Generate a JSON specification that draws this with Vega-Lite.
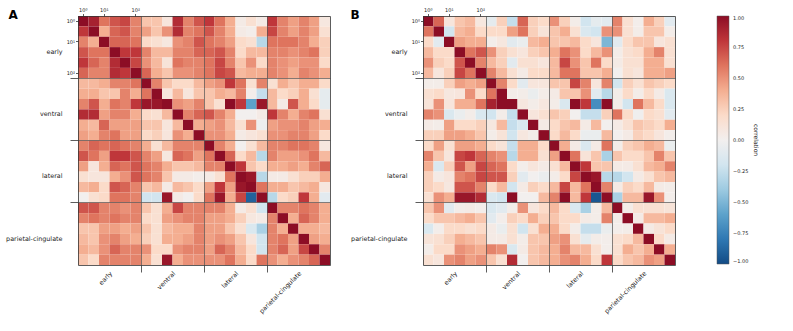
{
"$schema":"https://vega.github.io/schema/vega-lite/v6.json",
"padding":{"left":5,"top":7,"right":5,"bottom":5},
"config":{"font":"DejaVu Sans","view":{"stroke":null},"axis":{"labelFont":"DejaVu Sans","labelColor":"#222","tickColor":"#333","domainColor":"#333","domainWidth":0.8,"tickWidth":0.8,"grid":false},"title":{"font":"DejaVu Sans"}},
"datasets":{
"A":[
{"i":0,"j":0,"v":1},{"i":0,"j":1,"v":0.9},{"i":0,"j":2,"v":0.6},{"i":0,"j":3,"v":0.7},{"i":0,"j":4,"v":0.75},{"i":0,"j":5,"v":0.55},{"i":0,"j":6,"v":0.3},{"i":0,"j":7,"v":0.3},{"i":0,"j":8,"v":0.1},{"i":0,"j":9,"v":0.85},{"i":0,"j":10,"v":0.55},{"i":0,"j":11,"v":0.7},{"i":0,"j":12,"v":0.8},{"i":0,"j":13,"v":0.6},{"i":0,"j":14,"v":0.4},{"i":0,"j":15,"v":0.05},{"i":0,"j":16,"v":0.15},{"i":0,"j":17,"v":0.05},{"i":0,"j":18,"v":0.8},{"i":0,"j":19,"v":0.55},{"i":0,"j":20,"v":0.45},{"i":0,"j":21,"v":0.55},{"i":0,"j":22,"v":0.45},{"i":0,"j":23,"v":0.08},
{"i":1,"j":0,"v":0.8},{"i":1,"j":1,"v":1},{"i":1,"j":2,"v":0.4},{"i":1,"j":3,"v":0.65},{"i":1,"j":4,"v":0.7},{"i":1,"j":5,"v":0.55},{"i":1,"j":6,"v":0.45},{"i":1,"j":7,"v":0.3},{"i":1,"j":8,"v":0.5},{"i":1,"j":9,"v":0.85},{"i":1,"j":10,"v":0.55},{"i":1,"j":11,"v":0.6},{"i":1,"j":12,"v":0.7},{"i":1,"j":13,"v":0.55},{"i":1,"j":14,"v":0.4},{"i":1,"j":15,"v":0.05},{"i":1,"j":16,"v":0.02},{"i":1,"j":17,"v":0.4},{"i":1,"j":18,"v":0.75},{"i":1,"j":19,"v":0.55},{"i":1,"j":20,"v":0.45},{"i":1,"j":21,"v":0.55},{"i":1,"j":22,"v":0.45},{"i":1,"j":23,"v":0.15},
{"i":2,"j":0,"v":0.55},{"i":2,"j":1,"v":0.4},{"i":2,"j":2,"v":1},{"i":2,"j":3,"v":0.65},{"i":2,"j":4,"v":0.65},{"i":2,"j":5,"v":0.6},{"i":2,"j":6,"v":0.2},{"i":2,"j":7,"v":0.15},{"i":2,"j":8,"v":0.08},{"i":2,"j":9,"v":0.5},{"i":2,"j":10,"v":0.55},{"i":2,"j":11,"v":0.7},{"i":2,"j":12,"v":0.6},{"i":2,"j":13,"v":0.55},{"i":2,"j":14,"v":0.45},{"i":2,"j":15,"v":0.2},{"i":2,"j":16,"v":0.15},{"i":2,"j":17,"v":-0.3},{"i":2,"j":18,"v":0.6},{"i":2,"j":19,"v":0.6},{"i":2,"j":20,"v":0.6},{"i":2,"j":21,"v":0.55},{"i":2,"j":22,"v":0.4},{"i":2,"j":23,"v":0.25},
{"i":3,"j":0,"v":0.7},{"i":3,"j":1,"v":0.6},{"i":3,"j":2,"v":0.6},{"i":3,"j":3,"v":1},{"i":3,"j":4,"v":0.8},{"i":3,"j":5,"v":0.8},{"i":3,"j":6,"v":0.55},{"i":3,"j":7,"v":0.35},{"i":3,"j":8,"v":0.35},{"i":3,"j":9,"v":0.55},{"i":3,"j":10,"v":0.55},{"i":3,"j":11,"v":0.65},{"i":3,"j":12,"v":0.65},{"i":3,"j":13,"v":0.7},{"i":3,"j":14,"v":0.55},{"i":3,"j":15,"v":0.2},{"i":3,"j":16,"v":0.35},{"i":3,"j":17,"v":0.35},{"i":3,"j":18,"v":0.55},{"i":3,"j":19,"v":0.55},{"i":3,"j":20,"v":0.5},{"i":3,"j":21,"v":0.55},{"i":3,"j":22,"v":0.6},{"i":3,"j":23,"v":0.25},
{"i":4,"j":0,"v":0.8},{"i":4,"j":1,"v":0.65},{"i":4,"j":2,"v":0.55},{"i":4,"j":3,"v":0.85},{"i":4,"j":4,"v":1},{"i":4,"j":5,"v":0.75},{"i":4,"j":6,"v":0.5},{"i":4,"j":7,"v":0.35},{"i":4,"j":8,"v":0.12},{"i":4,"j":9,"v":0.6},{"i":4,"j":10,"v":0.55},{"i":4,"j":11,"v":0.55},{"i":4,"j":12,"v":0.6},{"i":4,"j":13,"v":0.75},{"i":4,"j":14,"v":0.55},{"i":4,"j":15,"v":0.3},{"i":4,"j":16,"v":0.5},{"i":4,"j":17,"v":0.2},{"i":4,"j":18,"v":0.55},{"i":4,"j":19,"v":0.5},{"i":4,"j":20,"v":0.45},{"i":4,"j":21,"v":0.5},{"i":4,"j":22,"v":0.5},{"i":4,"j":23,"v":0.2},
{"i":5,"j":0,"v":0.65},{"i":5,"j":1,"v":0.55},{"i":5,"j":2,"v":0.55},{"i":5,"j":3,"v":0.85},{"i":5,"j":4,"v":0.8},{"i":5,"j":5,"v":1},{"i":5,"j":6,"v":0.65},{"i":5,"j":7,"v":0.4},{"i":5,"j":8,"v":0.3},{"i":5,"j":9,"v":0.5},{"i":5,"j":10,"v":0.5},{"i":5,"j":11,"v":0.55},{"i":5,"j":12,"v":0.6},{"i":5,"j":13,"v":0.75},{"i":5,"j":14,"v":0.7},{"i":5,"j":15,"v":0.35},{"i":5,"j":16,"v":0.4},{"i":5,"j":17,"v":0.4},{"i":5,"j":18,"v":0.55},{"i":5,"j":19,"v":0.5},{"i":5,"j":20,"v":0.4},{"i":5,"j":21,"v":0.55},{"i":5,"j":22,"v":0.5},{"i":5,"j":23,"v":0.4},
{"i":6,"j":0,"v":0.35},{"i":6,"j":1,"v":0.35},{"i":6,"j":2,"v":0.4},{"i":6,"j":3,"v":0.55},{"i":6,"j":4,"v":0.55},{"i":6,"j":5,"v":0.6},{"i":6,"j":6,"v":1},{"i":6,"j":7,"v":0.55},{"i":6,"j":8,"v":0.3},{"i":6,"j":9,"v":0.2},{"i":6,"j":10,"v":0.2},{"i":6,"j":11,"v":0.35},{"i":6,"j":12,"v":0.45},{"i":6,"j":13,"v":0.5},{"i":6,"j":14,"v":0.8},{"i":6,"j":15,"v":0.6},{"i":6,"j":16,"v":0.15},{"i":6,"j":17,"v":0.55},{"i":6,"j":18,"v":0.15},{"i":6,"j":19,"v":0.4},{"i":6,"j":20,"v":0.3},{"i":6,"j":21,"v":0.4},{"i":6,"j":22,"v":0.4},{"i":6,"j":23,"v":0.2},
{"i":7,"j":0,"v":0.4},{"i":7,"j":1,"v":0.4},{"i":7,"j":2,"v":0.3},{"i":7,"j":3,"v":0.3},{"i":7,"j":4,"v":0.55},{"i":7,"j":5,"v":0.4},{"i":7,"j":6,"v":0.6},{"i":7,"j":7,"v":1},{"i":7,"j":8,"v":0.1},{"i":7,"j":9,"v":0.35},{"i":7,"j":10,"v":0.1},{"i":7,"j":11,"v":0.3},{"i":7,"j":12,"v":0.3},{"i":7,"j":13,"v":0.4},{"i":7,"j":14,"v":0.35},{"i":7,"j":15,"v":0.55},{"i":7,"j":16,"v":0.02},{"i":7,"j":17,"v":-0.25},{"i":7,"j":18,"v":0.35},{"i":7,"j":19,"v":0.2},{"i":7,"j":20,"v":0.25},{"i":7,"j":21,"v":0.4},{"i":7,"j":22,"v":0.15},{"i":7,"j":23,"v":-0.08},
{"i":8,"j":0,"v":0.55},{"i":8,"j":1,"v":0.7},{"i":8,"j":2,"v":0.4},{"i":8,"j":3,"v":0.6},{"i":8,"j":4,"v":0.55},{"i":8,"j":5,"v":0.8},{"i":8,"j":6,"v":0.95},{"i":8,"j":7,"v":0.95},{"i":8,"j":8,"v":1},{"i":8,"j":9,"v":0.5},{"i":8,"j":10,"v":0.45},{"i":8,"j":11,"v":0.55},{"i":8,"j":12,"v":0.3},{"i":8,"j":13,"v":0.15},{"i":8,"j":14,"v":1},{"i":8,"j":15,"v":0.8},{"i":8,"j":16,"v":-0.6},{"i":8,"j":17,"v":0.95},{"i":8,"j":18,"v":0.35},{"i":8,"j":19,"v":0.05},{"i":8,"j":20,"v":0.7},{"i":8,"j":21,"v":0.4},{"i":8,"j":22,"v":0.2},{"i":8,"j":23,"v":-0.08},
{"i":9,"j":0,"v":0.85},{"i":9,"j":1,"v":0.85},{"i":9,"j":2,"v":0.45},{"i":9,"j":3,"v":0.55},{"i":9,"j":4,"v":0.55},{"i":9,"j":5,"v":0.4},{"i":9,"j":6,"v":0.2},{"i":9,"j":7,"v":0.15},{"i":9,"j":8,"v":0.35},{"i":9,"j":9,"v":1},{"i":9,"j":10,"v":0.55},{"i":9,"j":11,"v":0.65},{"i":9,"j":12,"v":0.7},{"i":9,"j":13,"v":0.55},{"i":9,"j":14,"v":0.4},{"i":9,"j":15,"v":0},{"i":9,"j":16,"v":0},{"i":9,"j":17,"v":0.05},{"i":9,"j":18,"v":0.8},{"i":9,"j":19,"v":0.55},{"i":9,"j":20,"v":0.4},{"i":9,"j":21,"v":0.55},{"i":9,"j":22,"v":0.6},{"i":9,"j":23,"v":0.15},
{"i":10,"j":0,"v":0.4},{"i":10,"j":1,"v":0.35},{"i":10,"j":2,"v":0.65},{"i":10,"j":3,"v":0.45},{"i":10,"j":4,"v":0.45},{"i":10,"j":5,"v":0.45},{"i":10,"j":6,"v":0.3},{"i":10,"j":7,"v":0.3},{"i":10,"j":8,"v":0.1},{"i":10,"j":9,"v":0.35},{"i":10,"j":10,"v":1},{"i":10,"j":11,"v":0.4},{"i":10,"j":12,"v":0.45},{"i":10,"j":13,"v":0.5},{"i":10,"j":14,"v":0.35},{"i":10,"j":15,"v":0.15},{"i":10,"j":16,"v":0.5},{"i":10,"j":17,"v":-0.03},{"i":10,"j":18,"v":0.45},{"i":10,"j":19,"v":0.5},{"i":10,"j":20,"v":0.5},{"i":10,"j":21,"v":0.55},{"i":10,"j":22,"v":0.45},{"i":10,"j":23,"v":0.4},
{"i":11,"j":0,"v":0.45},{"i":11,"j":1,"v":0.4},{"i":11,"j":2,"v":0.55},{"i":11,"j":3,"v":0.6},{"i":11,"j":4,"v":0.45},{"i":11,"j":5,"v":0.45},{"i":11,"j":6,"v":0.2},{"i":11,"j":7,"v":0.25},{"i":11,"j":8,"v":0.1},{"i":11,"j":9,"v":0.5},{"i":11,"j":10,"v":0.4},{"i":11,"j":11,"v":1},{"i":11,"j":12,"v":0.5},{"i":11,"j":13,"v":0.5},{"i":11,"j":14,"v":0.4},{"i":11,"j":15,"v":0.05},{"i":11,"j":16,"v":0.1},{"i":11,"j":17,"v":0.15},{"i":11,"j":18,"v":0.5},{"i":11,"j":19,"v":0.5},{"i":11,"j":20,"v":0.55},{"i":11,"j":21,"v":0.55},{"i":11,"j":22,"v":0.45},{"i":11,"j":23,"v":0.2},
{"i":12,"j":0,"v":0.55},{"i":12,"j":1,"v":0.65},{"i":12,"j":2,"v":0.6},{"i":12,"j":3,"v":0.65},{"i":12,"j":4,"v":0.6},{"i":12,"j":5,"v":0.55},{"i":12,"j":6,"v":0.4},{"i":12,"j":7,"v":0.15},{"i":12,"j":8,"v":0.35},{"i":12,"j":9,"v":0.55},{"i":12,"j":10,"v":0.55},{"i":12,"j":11,"v":0.55},{"i":12,"j":12,"v":1},{"i":12,"j":13,"v":0.55},{"i":12,"j":14,"v":0.4},{"i":12,"j":15,"v":0},{"i":12,"j":16,"v":0.15},{"i":12,"j":17,"v":0.35},{"i":12,"j":18,"v":0.55},{"i":12,"j":19,"v":0.55},{"i":12,"j":20,"v":0.6},{"i":12,"j":21,"v":0.6},{"i":12,"j":22,"v":0.55},{"i":12,"j":23,"v":0.08},
{"i":13,"j":0,"v":0.7},{"i":13,"j":1,"v":0.6},{"i":13,"j":2,"v":0.45},{"i":13,"j":3,"v":0.8},{"i":13,"j":4,"v":0.8},{"i":13,"j":5,"v":0.7},{"i":13,"j":6,"v":0.55},{"i":13,"j":7,"v":0.45},{"i":13,"j":8,"v":0.08},{"i":13,"j":9,"v":0.65},{"i":13,"j":10,"v":0.6},{"i":13,"j":11,"v":0.45},{"i":13,"j":12,"v":0.6},{"i":13,"j":13,"v":1},{"i":13,"j":14,"v":0.65},{"i":13,"j":15,"v":0.2},{"i":13,"j":16,"v":0.35},{"i":13,"j":17,"v":-0.3},{"i":13,"j":18,"v":0.55},{"i":13,"j":19,"v":0.45},{"i":13,"j":20,"v":0.45},{"i":13,"j":21,"v":0.5},{"i":13,"j":22,"v":0.6},{"i":13,"j":23,"v":0.35},
{"i":14,"j":0,"v":0.45},{"i":14,"j":1,"v":0.1},{"i":14,"j":2,"v":0.4},{"i":14,"j":3,"v":0.65},{"i":14,"j":4,"v":0.6},{"i":14,"j":5,"v":0.7},{"i":14,"j":6,"v":0.6},{"i":14,"j":7,"v":0.55},{"i":14,"j":8,"v":0.4},{"i":14,"j":9,"v":0.3},{"i":14,"j":10,"v":0.3},{"i":14,"j":11,"v":0.35},{"i":14,"j":12,"v":0.55},{"i":14,"j":13,"v":0.55},{"i":14,"j":14,"v":1},{"i":14,"j":15,"v":0.8},{"i":14,"j":16,"v":0.3},{"i":14,"j":17,"v":0.2},{"i":14,"j":18,"v":0.4},{"i":14,"j":19,"v":0.4},{"i":14,"j":20,"v":0.45},{"i":14,"j":21,"v":0.4},{"i":14,"j":22,"v":0.55},{"i":14,"j":23,"v":0.65},
{"i":15,"j":0,"v":0.15},{"i":15,"j":1,"v":0.1},{"i":15,"j":2,"v":0.1},{"i":15,"j":3,"v":0.4},{"i":15,"j":4,"v":0.5},{"i":15,"j":5,"v":0.7},{"i":15,"j":6,"v":0.6},{"i":15,"j":7,"v":0.55},{"i":15,"j":8,"v":0.3},{"i":15,"j":9,"v":0.05},{"i":15,"j":10,"v":0.05},{"i":15,"j":11,"v":0.02},{"i":15,"j":12,"v":0.05},{"i":15,"j":13,"v":0.15},{"i":15,"j":14,"v":0.6},{"i":15,"j":15,"v":1},{"i":15,"j":16,"v":0.95},{"i":15,"j":17,"v":-0.3},{"i":15,"j":18,"v":0.05},{"i":15,"j":19,"v":0.05},{"i":15,"j":20,"v":0.15},{"i":15,"j":21,"v":0.25},{"i":15,"j":22,"v":0.25},{"i":15,"j":23,"v":0.4},
{"i":16,"j":0,"v":0.35},{"i":16,"j":1,"v":0.4},{"i":16,"j":2,"v":0.2},{"i":16,"j":3,"v":0.7},{"i":16,"j":4,"v":0.65},{"i":16,"j":5,"v":0.55},{"i":16,"j":6,"v":0.3},{"i":16,"j":7,"v":0.35},{"i":16,"j":8,"v":0.05},{"i":16,"j":9,"v":0.35},{"i":16,"j":10,"v":0.3},{"i":16,"j":11,"v":0.2},{"i":16,"j":12,"v":0.45},{"i":16,"j":13,"v":0.8},{"i":16,"j":14,"v":0.45},{"i":16,"j":15,"v":0.95},{"i":16,"j":16,"v":1},{"i":16,"j":17,"v":0.6},{"i":16,"j":18,"v":0.4},{"i":16,"j":19,"v":0.4},{"i":16,"j":20,"v":0.3},{"i":16,"j":21,"v":0.35},{"i":16,"j":22,"v":0.4},{"i":16,"j":23,"v":0.08},
{"i":17,"j":0,"v":0},{"i":17,"j":1,"v":0.15},{"i":17,"j":2,"v":0.2},{"i":17,"j":3,"v":0.6},{"i":17,"j":4,"v":0.6},{"i":17,"j":5,"v":0.55},{"i":17,"j":6,"v":-0.2},{"i":17,"j":7,"v":-0.2},{"i":17,"j":8,"v":0.95},{"i":17,"j":9,"v":0.05},{"i":17,"j":10,"v":0},{"i":17,"j":11,"v":0.2},{"i":17,"j":12,"v":0.6},{"i":17,"j":13,"v":0.95},{"i":17,"j":14,"v":0.4},{"i":17,"j":15,"v":0.75},{"i":17,"j":16,"v":-0.9},{"i":17,"j":17,"v":1},{"i":17,"j":18,"v":-0.3},{"i":17,"j":19,"v":0.2},{"i":17,"j":20,"v":0.25},{"i":17,"j":21,"v":0.8},{"i":17,"j":22,"v":0.4},{"i":17,"j":23,"v":-0.1},
{"i":18,"j":0,"v":0.7},{"i":18,"j":1,"v":0.7},{"i":18,"j":2,"v":0.55},{"i":18,"j":3,"v":0.55},{"i":18,"j":4,"v":0.5},{"i":18,"j":5,"v":0.55},{"i":18,"j":6,"v":0.3},{"i":18,"j":7,"v":0.15},{"i":18,"j":8,"v":0.4},{"i":18,"j":9,"v":0.75},{"i":18,"j":10,"v":0.55},{"i":18,"j":11,"v":0.55},{"i":18,"j":12,"v":0.55},{"i":18,"j":13,"v":0.55},{"i":18,"j":14,"v":0.4},{"i":18,"j":15,"v":0.05},{"i":18,"j":16,"v":0.15},{"i":18,"j":17,"v":-0.2},{"i":18,"j":18,"v":1},{"i":18,"j":19,"v":0.55},{"i":18,"j":20,"v":0.55},{"i":18,"j":21,"v":0.6},{"i":18,"j":22,"v":0.55},{"i":18,"j":23,"v":0.4},
{"i":19,"j":0,"v":0.55},{"i":19,"j":1,"v":0.6},{"i":19,"j":2,"v":0.55},{"i":19,"j":3,"v":0.6},{"i":19,"j":4,"v":0.55},{"i":19,"j":5,"v":0.55},{"i":19,"j":6,"v":0.2},{"i":19,"j":7,"v":0.15},{"i":19,"j":8,"v":0.45},{"i":19,"j":9,"v":0.5},{"i":19,"j":10,"v":0.55},{"i":19,"j":11,"v":0.55},{"i":19,"j":12,"v":0.45},{"i":19,"j":13,"v":0.45},{"i":19,"j":14,"v":0.4},{"i":19,"j":15,"v":0.25},{"i":19,"j":16,"v":0.08},{"i":19,"j":17,"v":0.05},{"i":19,"j":18,"v":0.55},{"i":19,"j":19,"v":1},{"i":19,"j":20,"v":0.4},{"i":19,"j":21,"v":0.65},{"i":19,"j":22,"v":0.55},{"i":19,"j":23,"v":0.4},
{"i":20,"j":0,"v":0.3},{"i":20,"j":1,"v":0.3},{"i":20,"j":2,"v":0.45},{"i":20,"j":3,"v":0.45},{"i":20,"j":4,"v":0.4},{"i":20,"j":5,"v":0.45},{"i":20,"j":6,"v":0.3},{"i":20,"j":7,"v":0.15},{"i":20,"j":8,"v":0.35},{"i":20,"j":9,"v":0.4},{"i":20,"j":10,"v":0.4},{"i":20,"j":11,"v":0.55},{"i":20,"j":12,"v":0.45},{"i":20,"j":13,"v":0.45},{"i":20,"j":14,"v":0.3},{"i":20,"j":15,"v":0.15},{"i":20,"j":16,"v":-0.15},{"i":20,"j":17,"v":-0.35},{"i":20,"j":18,"v":0.55},{"i":20,"j":19,"v":0.4},{"i":20,"j":20,"v":1},{"i":20,"j":21,"v":0.4},{"i":20,"j":22,"v":0.4},{"i":20,"j":23,"v":0.35},
{"i":21,"j":0,"v":0.35},{"i":21,"j":1,"v":0.3},{"i":21,"j":2,"v":0.5},{"i":21,"j":3,"v":0.55},{"i":21,"j":4,"v":0.45},{"i":21,"j":5,"v":0.4},{"i":21,"j":6,"v":0.25},{"i":21,"j":7,"v":0.15},{"i":21,"j":8,"v":0.4},{"i":21,"j":9,"v":0.4},{"i":21,"j":10,"v":0.45},{"i":21,"j":11,"v":0.55},{"i":21,"j":12,"v":0.45},{"i":21,"j":13,"v":0.5},{"i":21,"j":14,"v":0.45},{"i":21,"j":15,"v":0.3},{"i":21,"j":16,"v":0.1},{"i":21,"j":17,"v":-0.2},{"i":21,"j":18,"v":0.55},{"i":21,"j":19,"v":0.6},{"i":21,"j":20,"v":0.45},{"i":21,"j":21,"v":1},{"i":21,"j":22,"v":0.45},{"i":21,"j":23,"v":0.4},
{"i":22,"j":0,"v":0.4},{"i":22,"j":1,"v":0.35},{"i":22,"j":2,"v":0.5},{"i":22,"j":3,"v":0.65},{"i":22,"j":4,"v":0.55},{"i":22,"j":5,"v":0.55},{"i":22,"j":6,"v":0.5},{"i":22,"j":7,"v":0.2},{"i":22,"j":8,"v":0.2},{"i":22,"j":9,"v":0.5},{"i":22,"j":10,"v":0.55},{"i":22,"j":11,"v":0.55},{"i":22,"j":12,"v":0.45},{"i":22,"j":13,"v":0.65},{"i":22,"j":14,"v":0.55},{"i":22,"j":15,"v":0.35},{"i":22,"j":16,"v":0.2},{"i":22,"j":17,"v":-0.2},{"i":22,"j":18,"v":0.55},{"i":22,"j":19,"v":0.65},{"i":22,"j":20,"v":0.45},{"i":22,"j":21,"v":0.75},{"i":22,"j":22,"v":1},{"i":22,"j":23,"v":0.55},
{"i":23,"j":0,"v":0.3},{"i":23,"j":1,"v":0.2},{"i":23,"j":2,"v":0.55},{"i":23,"j":3,"v":0.55},{"i":23,"j":4,"v":0.55},{"i":23,"j":5,"v":0.55},{"i":23,"j":6,"v":0.4},{"i":23,"j":7,"v":0.15},{"i":23,"j":8,"v":0.95},{"i":23,"j":9,"v":0.4},{"i":23,"j":10,"v":0.5},{"i":23,"j":11,"v":0.5},{"i":23,"j":12,"v":0.5},{"i":23,"j":13,"v":0.5},{"i":23,"j":14,"v":0.6},{"i":23,"j":15,"v":0.4},{"i":23,"j":16,"v":0.2},{"i":23,"j":17,"v":0.6},{"i":23,"j":18,"v":0.5},{"i":23,"j":19,"v":0.4},{"i":23,"j":20,"v":0.5},{"i":23,"j":21,"v":0.55},{"i":23,"j":22,"v":0.65},{"i":23,"j":23,"v":1}
],
"B":[
{"i":0,"j":0,"v":1},{"i":0,"j":1,"v":0.65},{"i":0,"j":2,"v":0.1},{"i":0,"j":3,"v":0.3},{"i":0,"j":4,"v":0.35},{"i":0,"j":5,"v":0.08},{"i":0,"j":6,"v":-0.08},{"i":0,"j":7,"v":0.25},{"i":0,"j":8,"v":-0.25},{"i":0,"j":9,"v":0.65},{"i":0,"j":10,"v":0.25},{"i":0,"j":11,"v":0.2},{"i":0,"j":12,"v":0.5},{"i":0,"j":13,"v":0.25},{"i":0,"j":14,"v":0.03},{"i":0,"j":15,"v":-0.2},{"i":0,"j":16,"v":-0.08},{"i":0,"j":17,"v":-0.1},{"i":0,"j":18,"v":0.55},{"i":0,"j":19,"v":0.15},{"i":0,"j":20,"v":0.02},{"i":0,"j":21,"v":0.4},{"i":0,"j":22,"v":0.25},{"i":0,"j":23,"v":-0.1},
{"i":1,"j":0,"v":0.6},{"i":1,"j":1,"v":1},{"i":1,"j":2,"v":-0.2},{"i":1,"j":3,"v":0.35},{"i":1,"j":4,"v":0.4},{"i":1,"j":5,"v":0.2},{"i":1,"j":6,"v":0.2},{"i":1,"j":7,"v":0.2},{"i":1,"j":8,"v":0.45},{"i":1,"j":9,"v":0.6},{"i":1,"j":10,"v":0.25},{"i":1,"j":11,"v":0.12},{"i":1,"j":12,"v":0.3},{"i":1,"j":13,"v":0.4},{"i":1,"j":14,"v":0.15},{"i":1,"j":15,"v":-0.15},{"i":1,"j":16,"v":-0.2},{"i":1,"j":17,"v":0.5},{"i":1,"j":18,"v":0.5},{"i":1,"j":19,"v":0.15},{"i":1,"j":20,"v":0.03},{"i":1,"j":21,"v":0.3},{"i":1,"j":22,"v":0.3},{"i":1,"j":23,"v":0.03},
{"i":2,"j":0,"v":0.2},{"i":2,"j":1,"v":-0.1},{"i":2,"j":2,"v":1},{"i":2,"j":3,"v":0.45},{"i":2,"j":4,"v":0.4},{"i":2,"j":5,"v":0.4},{"i":2,"j":6,"v":0.02},{"i":2,"j":7,"v":0.08},{"i":2,"j":8,"v":-0.1},{"i":2,"j":9,"v":-0.05},{"i":2,"j":10,"v":0.35},{"i":2,"j":11,"v":0.4},{"i":2,"j":12,"v":0.3},{"i":2,"j":13,"v":0.3},{"i":2,"j":14,"v":0.35},{"i":2,"j":15,"v":0.2},{"i":2,"j":16,"v":0.1},{"i":2,"j":17,"v":-0.5},{"i":2,"j":18,"v":-0.1},{"i":2,"j":19,"v":0.2},{"i":2,"j":20,"v":0.3},{"i":2,"j":21,"v":0.3},{"i":2,"j":22,"v":0.1},{"i":2,"j":23,"v":0.15},
{"i":3,"j":0,"v":0.35},{"i":3,"j":1,"v":0.2},{"i":3,"j":2,"v":0.2},{"i":3,"j":3,"v":1},{"i":3,"j":4,"v":0.6},{"i":3,"j":5,"v":0.7},{"i":3,"j":6,"v":0.5},{"i":3,"j":7,"v":0.25},{"i":3,"j":8,"v":0.15},{"i":3,"j":9,"v":0.1},{"i":3,"j":10,"v":0.25},{"i":3,"j":11,"v":0.3},{"i":3,"j":12,"v":0.4},{"i":3,"j":13,"v":0.6},{"i":3,"j":14,"v":0.5},{"i":3,"j":15,"v":0.2},{"i":3,"j":16,"v":0.35},{"i":3,"j":17,"v":0.5},{"i":3,"j":18,"v":0.03},{"i":3,"j":19,"v":0.15},{"i":3,"j":20,"v":0.2},{"i":3,"j":21,"v":0.4},{"i":3,"j":22,"v":0.55},{"i":3,"j":23,"v":0.15},
{"i":4,"j":0,"v":0.5},{"i":4,"j":1,"v":0.25},{"i":4,"j":2,"v":0.2},{"i":4,"j":3,"v":0.7},{"i":4,"j":4,"v":1},{"i":4,"j":5,"v":0.55},{"i":4,"j":6,"v":0.35},{"i":4,"j":7,"v":0.25},{"i":4,"j":8,"v":-0.1},{"i":4,"j":9,"v":0.15},{"i":4,"j":10,"v":0.15},{"i":4,"j":11,"v":0.1},{"i":4,"j":12,"v":0.35},{"i":4,"j":13,"v":0.75},{"i":4,"j":14,"v":0.5},{"i":4,"j":15,"v":0.3},{"i":4,"j":16,"v":0.6},{"i":4,"j":17,"v":0.2},{"i":4,"j":18,"v":0.05},{"i":4,"j":19,"v":0.15},{"i":4,"j":20,"v":0.15},{"i":4,"j":21,"v":0.4},{"i":4,"j":22,"v":0.4},{"i":4,"j":23,"v":0.15},
{"i":5,"j":0,"v":0.35},{"i":5,"j":1,"v":0.1},{"i":5,"j":2,"v":0.25},{"i":5,"j":3,"v":0.75},{"i":5,"j":4,"v":0.6},{"i":5,"j":5,"v":1},{"i":5,"j":6,"v":0.55},{"i":5,"j":7,"v":0.35},{"i":5,"j":8,"v":0.15},{"i":5,"j":9,"v":0.05},{"i":5,"j":10,"v":0.2},{"i":5,"j":11,"v":0.2},{"i":5,"j":12,"v":0.35},{"i":5,"j":13,"v":0.6},{"i":5,"j":14,"v":0.6},{"i":5,"j":15,"v":0.3},{"i":5,"j":16,"v":0.3},{"i":5,"j":17,"v":0.4},{"i":5,"j":18,"v":0},{"i":5,"j":19,"v":0.15},{"i":5,"j":20,"v":0.1},{"i":5,"j":21,"v":0.4},{"i":5,"j":22,"v":0.4},{"i":5,"j":23,"v":0.45},
{"i":6,"j":0,"v":0.03},{"i":6,"j":1,"v":0.03},{"i":6,"j":2,"v":0.25},{"i":6,"j":3,"v":0.45},{"i":6,"j":4,"v":0.4},{"i":6,"j":5,"v":0.45},{"i":6,"j":6,"v":1},{"i":6,"j":7,"v":0.55},{"i":6,"j":8,"v":0.2},{"i":6,"j":9,"v":-0.1},{"i":6,"j":10,"v":0.1},{"i":6,"j":11,"v":0.1},{"i":6,"j":12,"v":0.3},{"i":6,"j":13,"v":0.3},{"i":6,"j":14,"v":0.75},{"i":6,"j":15,"v":0.55},{"i":6,"j":16,"v":0.1},{"i":6,"j":17,"v":0.55},{"i":6,"j":18,"v":-0.2},{"i":6,"j":19,"v":0.25},{"i":6,"j":20,"v":0.15},{"i":6,"j":21,"v":0.3},{"i":6,"j":22,"v":0.25},{"i":6,"j":23,"v":0.2},
{"i":7,"j":0,"v":0.15},{"i":7,"j":1,"v":0.2},{"i":7,"j":2,"v":0.08},{"i":7,"j":3,"v":0.1},{"i":7,"j":4,"v":0.5},{"i":7,"j":5,"v":0.2},{"i":7,"j":6,"v":0.6},{"i":7,"j":7,"v":1},{"i":7,"j":8,"v":0.03},{"i":7,"j":9,"v":0.03},{"i":7,"j":10,"v":-0.05},{"i":7,"j":11,"v":0.03},{"i":7,"j":12,"v":0.05},{"i":7,"j":13,"v":0.3},{"i":7,"j":14,"v":0.3},{"i":7,"j":15,"v":0.5},{"i":7,"j":16,"v":-0.1},{"i":7,"j":17,"v":-0.3},{"i":7,"j":18,"v":0.03},{"i":7,"j":19,"v":0.2},{"i":7,"j":20,"v":0.03},{"i":7,"j":21,"v":0.2},{"i":7,"j":22,"v":0.05},{"i":7,"j":23,"v":-0.15},
{"i":8,"j":0,"v":0.12},{"i":8,"j":1,"v":0.5},{"i":8,"j":2,"v":0.1},{"i":8,"j":3,"v":0.4},{"i":8,"j":4,"v":0.4},{"i":8,"j":5,"v":0.6},{"i":8,"j":6,"v":0.9},{"i":8,"j":7,"v":1},{"i":8,"j":8,"v":1},{"i":8,"j":9,"v":0.08},{"i":8,"j":10,"v":0.03},{"i":8,"j":11,"v":0.08},{"i":8,"j":12,"v":0.03},{"i":8,"j":13,"v":-0.15},{"i":8,"j":14,"v":1},{"i":8,"j":15,"v":0.8},{"i":8,"j":16,"v":-0.7},{"i":8,"j":17,"v":1},{"i":8,"j":18,"v":0.03},{"i":8,"j":19,"v":-0.2},{"i":8,"j":20,"v":0.6},{"i":8,"j":21,"v":0.35},{"i":8,"j":22,"v":0.2},{"i":8,"j":23,"v":-0.15},
{"i":9,"j":0,"v":0.55},{"i":9,"j":1,"v":0.5},{"i":9,"j":2,"v":-0.15},{"i":9,"j":3,"v":-0.05},{"i":9,"j":4,"v":0.03},{"i":9,"j":5,"v":-0.15},{"i":9,"j":6,"v":-0.2},{"i":9,"j":7,"v":0.03},{"i":9,"j":8,"v":-0.25},{"i":9,"j":9,"v":1},{"i":9,"j":10,"v":0.1},{"i":9,"j":11,"v":0.15},{"i":9,"j":12,"v":0.3},{"i":9,"j":13,"v":0.25},{"i":9,"j":14,"v":0},{"i":9,"j":15,"v":-0.25},{"i":9,"j":16,"v":-0.25},{"i":9,"j":17,"v":0.25},{"i":9,"j":18,"v":0.6},{"i":9,"j":19,"v":0.2},{"i":9,"j":20,"v":-0.02},{"i":9,"j":21,"v":0.2},{"i":9,"j":22,"v":0.15},{"i":9,"j":23,"v":-0.1},
{"i":10,"j":0,"v":0.05},{"i":10,"j":1,"v":0.03},{"i":10,"j":2,"v":0.45},{"i":10,"j":3,"v":0.2},{"i":10,"j":4,"v":0.2},{"i":10,"j":5,"v":0.25},{"i":10,"j":6,"v":0.08},{"i":10,"j":7,"v":0.35},{"i":10,"j":8,"v":-0.25},{"i":10,"j":9,"v":-0.15},{"i":10,"j":10,"v":1},{"i":10,"j":11,"v":0.05},{"i":10,"j":12,"v":0.2},{"i":10,"j":13,"v":0.3},{"i":10,"j":14,"v":0.35},{"i":10,"j":15,"v":0.05},{"i":10,"j":16,"v":0.35},{"i":10,"j":17,"v":0},{"i":10,"j":18,"v":0.05},{"i":10,"j":19,"v":0.15},{"i":10,"j":20,"v":0.3},{"i":10,"j":21,"v":0.25},{"i":10,"j":22,"v":0.2},{"i":10,"j":23,"v":0.4},
{"i":11,"j":0,"v":0.25},{"i":11,"j":1,"v":0.25},{"i":11,"j":2,"v":0.45},{"i":11,"j":3,"v":0.45},{"i":11,"j":4,"v":0.4},{"i":11,"j":5,"v":0.3},{"i":11,"j":6,"v":0.03},{"i":11,"j":7,"v":0.12},{"i":11,"j":8,"v":-0.2},{"i":11,"j":9,"v":0.08},{"i":11,"j":10,"v":0.03},{"i":11,"j":11,"v":1},{"i":11,"j":12,"v":0.2},{"i":11,"j":13,"v":0.35},{"i":11,"j":14,"v":0.2},{"i":11,"j":15,"v":-0.05},{"i":11,"j":16,"v":-0.05},{"i":11,"j":17,"v":0.35},{"i":11,"j":18,"v":0},{"i":11,"j":19,"v":0.05},{"i":11,"j":20,"v":0.25},{"i":11,"j":21,"v":0.2},{"i":11,"j":22,"v":0.1},{"i":11,"j":23,"v":0.02},
{"i":12,"j":0,"v":0.2},{"i":12,"j":1,"v":0.45},{"i":12,"j":2,"v":0.15},{"i":12,"j":3,"v":0.45},{"i":12,"j":4,"v":0.45},{"i":12,"j":5,"v":0.4},{"i":12,"j":6,"v":0.2},{"i":12,"j":7,"v":0.12},{"i":12,"j":8,"v":-0.25},{"i":12,"j":9,"v":0.4},{"i":12,"j":10,"v":0.4},{"i":12,"j":11,"v":0.2},{"i":12,"j":12,"v":1},{"i":12,"j":13,"v":0.4},{"i":12,"j":14,"v":0.05},{"i":12,"j":15,"v":-0.15},{"i":12,"j":16,"v":0.05},{"i":12,"j":17,"v":0.6},{"i":12,"j":18,"v":0.03},{"i":12,"j":19,"v":0.25},{"i":12,"j":20,"v":0.3},{"i":12,"j":21,"v":0.4},{"i":12,"j":22,"v":0.35},{"i":12,"j":23,"v":-0.05},
{"i":13,"j":0,"v":0.55},{"i":13,"j":1,"v":0.3},{"i":13,"j":2,"v":0.1},{"i":13,"j":3,"v":0.75},{"i":13,"j":4,"v":0.8},{"i":13,"j":5,"v":0.65},{"i":13,"j":6,"v":0.55},{"i":13,"j":7,"v":0.5},{"i":13,"j":8,"v":-0.3},{"i":13,"j":9,"v":0.4},{"i":13,"j":10,"v":0.4},{"i":13,"j":11,"v":0.15},{"i":13,"j":12,"v":0.45},{"i":13,"j":13,"v":1},{"i":13,"j":14,"v":0.6},{"i":13,"j":15,"v":0.12},{"i":13,"j":16,"v":0.3},{"i":13,"j":17,"v":-0.35},{"i":13,"j":18,"v":0.3},{"i":13,"j":19,"v":0.2},{"i":13,"j":20,"v":0.2},{"i":13,"j":21,"v":0.3},{"i":13,"j":22,"v":0.55},{"i":13,"j":23,"v":0.3},
{"i":14,"j":0,"v":0.4},{"i":14,"j":1,"v":-0.15},{"i":14,"j":2,"v":0.25},{"i":14,"j":3,"v":0.7},{"i":14,"j":4,"v":0.45},{"i":14,"j":5,"v":0.75},{"i":14,"j":6,"v":0.65},{"i":14,"j":7,"v":0.6},{"i":14,"j":8,"v":0.2},{"i":14,"j":9,"v":0.02},{"i":14,"j":10,"v":0.1},{"i":14,"j":11,"v":0.05},{"i":14,"j":12,"v":0.15},{"i":14,"j":13,"v":0.35},{"i":14,"j":14,"v":1},{"i":14,"j":15,"v":0.8},{"i":14,"j":16,"v":0.3},{"i":14,"j":17,"v":0.3},{"i":14,"j":18,"v":0.05},{"i":14,"j":19,"v":0.05},{"i":14,"j":20,"v":0.15},{"i":14,"j":21,"v":0.35},{"i":14,"j":22,"v":0.4},{"i":14,"j":23,"v":0.55},
{"i":15,"j":0,"v":0.25},{"i":15,"j":1,"v":0.05},{"i":15,"j":2,"v":0.1},{"i":15,"j":3,"v":0.55},{"i":15,"j":4,"v":0.6},{"i":15,"j":5,"v":0.75},{"i":15,"j":6,"v":0.7},{"i":15,"j":7,"v":0.7},{"i":15,"j":8,"v":0.25},{"i":15,"j":9,"v":-0.1},{"i":15,"j":10,"v":0},{"i":15,"j":11,"v":-0.05},{"i":15,"j":12,"v":0.03},{"i":15,"j":13,"v":0.2},{"i":15,"j":14,"v":0.75},{"i":15,"j":15,"v":1},{"i":15,"j":16,"v":0.95},{"i":15,"j":17,"v":-0.3},{"i":15,"j":18,"v":-0.3},{"i":15,"j":19,"v":-0.2},{"i":15,"j":20,"v":0.05},{"i":15,"j":21,"v":0.15},{"i":15,"j":22,"v":0.3},{"i":15,"j":23,"v":0.35},
{"i":16,"j":0,"v":0.25},{"i":16,"j":1,"v":0.2},{"i":16,"j":2,"v":0.08},{"i":16,"j":3,"v":0.7},{"i":16,"j":4,"v":0.7},{"i":16,"j":5,"v":0.55},{"i":16,"j":6,"v":0.2},{"i":16,"j":7,"v":0.35},{"i":16,"j":8,"v":-0.2},{"i":16,"j":9,"v":0.05},{"i":16,"j":10,"v":0.25},{"i":16,"j":11,"v":0.2},{"i":16,"j":12,"v":0.35},{"i":16,"j":13,"v":0.75},{"i":16,"j":14,"v":0.35},{"i":16,"j":15,"v":0.6},{"i":16,"j":16,"v":1},{"i":16,"j":17,"v":0.55},{"i":16,"j":18,"v":0.05},{"i":16,"j":19,"v":0.25},{"i":16,"j":20,"v":0.2},{"i":16,"j":21,"v":0.35},{"i":16,"j":22,"v":0.05},{"i":16,"j":23,"v":0.03},
{"i":17,"j":0,"v":0.15},{"i":17,"j":1,"v":0.5},{"i":17,"j":2,"v":0.4},{"i":17,"j":3,"v":0.95},{"i":17,"j":4,"v":0.95},{"i":17,"j":5,"v":0.85},{"i":17,"j":6,"v":-0.15},{"i":17,"j":7,"v":-0.2},{"i":17,"j":8,"v":1},{"i":17,"j":9,"v":0},{"i":17,"j":10,"v":0},{"i":17,"j":11,"v":0.35},{"i":17,"j":12,"v":0.55},{"i":17,"j":13,"v":1},{"i":17,"j":14,"v":0.35},{"i":17,"j":15,"v":0.8},{"i":17,"j":16,"v":-0.95},{"i":17,"j":17,"v":1},{"i":17,"j":18,"v":-0.35},{"i":17,"j":19,"v":0.35},{"i":17,"j":20,"v":0.35},{"i":17,"j":21,"v":0.95},{"i":17,"j":22,"v":0.5},{"i":17,"j":23,"v":0.02},
{"i":18,"j":0,"v":0.3},{"i":18,"j":1,"v":0.5},{"i":18,"j":2,"v":-0.1},{"i":18,"j":3,"v":0.03},{"i":18,"j":4,"v":0.05},{"i":18,"j":5,"v":0.02},{"i":18,"j":6,"v":-0.15},{"i":18,"j":7,"v":-0.1},{"i":18,"j":8,"v":0.03},{"i":18,"j":9,"v":0.5},{"i":18,"j":10,"v":0.1},{"i":18,"j":11,"v":0.2},{"i":18,"j":12,"v":0.35},{"i":18,"j":13,"v":0.2},{"i":18,"j":14,"v":-0.15},{"i":18,"j":15,"v":-0.35},{"i":18,"j":16,"v":0.03},{"i":18,"j":17,"v":0.35},{"i":18,"j":18,"v":1},{"i":18,"j":19,"v":0.03},{"i":18,"j":20,"v":0.15},{"i":18,"j":21,"v":0.15},{"i":18,"j":22,"v":0.15},{"i":18,"j":23,"v":0.12},
{"i":19,"j":0,"v":0.2},{"i":19,"j":1,"v":0.3},{"i":19,"j":2,"v":0.3},{"i":19,"j":3,"v":0.35},{"i":19,"j":4,"v":0.4},{"i":19,"j":5,"v":0.3},{"i":19,"j":6,"v":-0.1},{"i":19,"j":7,"v":0.02},{"i":19,"j":8,"v":0.25},{"i":19,"j":9,"v":0.2},{"i":19,"j":10,"v":0.4},{"i":19,"j":11,"v":0.25},{"i":19,"j":12,"v":0.3},{"i":19,"j":13,"v":0.2},{"i":19,"j":14,"v":0.2},{"i":19,"j":15,"v":0.05},{"i":19,"j":16,"v":0.03},{"i":19,"j":17,"v":0.55},{"i":19,"j":18,"v":0.03},{"i":19,"j":19,"v":1},{"i":19,"j":20,"v":0.05},{"i":19,"j":21,"v":0.35},{"i":19,"j":22,"v":0.35},{"i":19,"j":23,"v":0.4},
{"i":20,"j":0,"v":-0.15},{"i":20,"j":1,"v":0.02},{"i":20,"j":2,"v":0.2},{"i":20,"j":3,"v":0.2},{"i":20,"j":4,"v":0.15},{"i":20,"j":5,"v":0.2},{"i":20,"j":6,"v":0.05},{"i":20,"j":7,"v":-0.05},{"i":20,"j":8,"v":0.15},{"i":20,"j":9,"v":-0.2},{"i":20,"j":10,"v":0.15},{"i":20,"j":11,"v":0.4},{"i":20,"j":12,"v":0.4},{"i":20,"j":13,"v":0.2},{"i":20,"j":14,"v":0.03},{"i":20,"j":15,"v":-0.25},{"i":20,"j":16,"v":-0.25},{"i":20,"j":17,"v":-0.05},{"i":20,"j":18,"v":0.02},{"i":20,"j":19,"v":0.03},{"i":20,"j":20,"v":1},{"i":20,"j":21,"v":0.05},{"i":20,"j":22,"v":0.12},{"i":20,"j":23,"v":0.2},
{"i":21,"j":0,"v":0.12},{"i":21,"j":1,"v":0.15},{"i":21,"j":2,"v":0.25},{"i":21,"j":3,"v":0.4},{"i":21,"j":4,"v":0.35},{"i":21,"j":5,"v":0.3},{"i":21,"j":6,"v":0.05},{"i":21,"j":7,"v":0.05},{"i":21,"j":8,"v":0.15},{"i":21,"j":9,"v":0.03},{"i":21,"j":10,"v":0.3},{"i":21,"j":11,"v":0.3},{"i":21,"j":12,"v":0.45},{"i":21,"j":13,"v":0.5},{"i":21,"j":14,"v":0.15},{"i":21,"j":15,"v":-0.08},{"i":21,"j":16,"v":0.03},{"i":21,"j":17,"v":0.02},{"i":21,"j":18,"v":0.15},{"i":21,"j":19,"v":0.2},{"i":21,"j":20,"v":0.35},{"i":21,"j":21,"v":1},{"i":21,"j":22,"v":0.2},{"i":21,"j":23,"v":0.05},
{"i":22,"j":0,"v":0.03},{"i":22,"j":1,"v":0.2},{"i":22,"j":2,"v":0.2},{"i":22,"j":3,"v":0.5},{"i":22,"j":4,"v":0.45},{"i":22,"j":5,"v":0.4},{"i":22,"j":6,"v":0.55},{"i":22,"j":7,"v":0.5},{"i":22,"j":8,"v":-0.15},{"i":22,"j":9,"v":0.05},{"i":22,"j":10,"v":0.3},{"i":22,"j":11,"v":0.35},{"i":22,"j":12,"v":0.4},{"i":22,"j":13,"v":0.55},{"i":22,"j":14,"v":0.35},{"i":22,"j":15,"v":0.35},{"i":22,"j":16,"v":0.15},{"i":22,"j":17,"v":0.02},{"i":22,"j":18,"v":0.15},{"i":22,"j":19,"v":0.4},{"i":22,"j":20,"v":0.3},{"i":22,"j":21,"v":0.4},{"i":22,"j":22,"v":1},{"i":22,"j":23,"v":0.4},
{"i":23,"j":0,"v":0.15},{"i":23,"j":1,"v":0.1},{"i":23,"j":2,"v":0.5},{"i":23,"j":3,"v":0.55},{"i":23,"j":4,"v":0.45},{"i":23,"j":5,"v":0.5},{"i":23,"j":6,"v":0.3},{"i":23,"j":7,"v":0.15},{"i":23,"j":8,"v":0.85},{"i":23,"j":9,"v":0},{"i":23,"j":10,"v":0.3},{"i":23,"j":11,"v":0.35},{"i":23,"j":12,"v":0.4},{"i":23,"j":13,"v":0.5},{"i":23,"j":14,"v":0.55},{"i":23,"j":15,"v":0.4},{"i":23,"j":16,"v":0.2},{"i":23,"j":17,"v":0.8},{"i":23,"j":18,"v":0.2},{"i":23,"j":19,"v":0.3},{"i":23,"j":20,"v":0.35},{"i":23,"j":21,"v":0.5},{"i":23,"j":22,"v":0.45},{"i":23,"j":23,"v":1}
]},
"spacing":20,
"resolve":{"scale":{"color":"shared"},"legend":{"color":"shared"}},
"hconcat":[
{"width":252,"height":249,"data":{"name":"A"},
"title":{"text":"A","anchor":"start","frame":"bounds","fontSize":12,"fontWeight":"bold","color":"#000","offset":0,"dy":14,"dx":3},
"layer":[
{"mark":{"type":"rect"},
"encoding":{
"x":{"field":"j","type":"ordinal","scale":{"domain":[0,1,2,3,4,5,6,7,8,9,10,11,12,13,14,15,16,17,18,19,20,21,22,23],"paddingInner":0,"paddingOuter":0},"axis":{"orient":"bottom","offset":0,"title":null,"values":[2,8,14,20],"bandPosition":1,"ticks":false,"domain":true,"labelExpr":"datum.value==2?'early':datum.value==8?'ventral':datum.value==14?'lateral':'parietal-cingulate'","labelAngle":-45,"labelAlign":"right","labelBaseline":"top","labelPadding":5,"labelOffset":5,"labelFontSize":6.4,"labelOverlap":false}},
"y":{"field":"i","type":"ordinal","scale":{"domain":[0,1,2,3,4,5,6,7,8,9,10,11,12,13,14,15,16,17,18,19,20,21,22,23],"paddingInner":0,"paddingOuter":0},"axis":{"orient":"left","offset":0,"title":null,"values":[2,8,14,20],"bandPosition":1,"ticks":false,"domain":true,"labelExpr":"datum.value==2?'early':datum.value==8?'ventral':datum.value==14?'lateral':'parietal-cingulate'","labelAngle":0,"labelAlign":"right","labelBaseline":"middle","labelPadding":16,"labelFontSize":6.4,"labelOverlap":false,"labelOffset":10}},
"color":{"field":"v","type":"quantitative","scale":{"scheme":"redblue","reverse":true,"domain":[-1,1]},"legend":{"type":"gradient","title":"correlation","orient":"right","direction":"vertical","gradientLength":248,"gradientThickness":12,"values":[-1,-0.75,-0.5,-0.25,0,0.25,0.5,0.75,1],"format":".2f","labelFontSize":5,"labelFont":"DejaVu Sans","labelColor":"#222","titleFontSize":6,"titleFont":"DejaVu Sans","titleFontWeight":"normal","titleColor":"#222","titleOrient":"right","titleAnchor":"middle","titleAngle":270,"titleBaseline":"bottom","offset":42,"padding":0,"labelOffset":4,"gradientStrokeColor":"#555","gradientStrokeWidth":0.5}}}},
{"mark":{"type":"rect","opacity":0},
"encoding":{
"x":{"field":"j","type":"ordinal","axis":{"orient":"bottom","offset":0,"title":null,"values":[5,11,17],"bandPosition":1,"ticks":true,"tickSize":7,"labels":false,"domain":false,"grid":true,"gridColor":"#555","gridWidth":0.9,"gridOpacity":0.8,"zindex":1}},
"y":{"field":"i","type":"ordinal","axis":{"orient":"left","offset":0,"title":null,"values":[5,11,17],"bandPosition":1,"ticks":true,"tickSize":8,"labels":false,"domain":false,"grid":true,"gridColor":"#555","gridWidth":0.9,"gridOpacity":0.8,"zindex":1}}}},
{"mark":{"type":"rect","opacity":0},
"encoding":{
"x":{"field":"j","type":"ordinal","axis":{"orient":"top","offset":0,"title":null,"values":[0,2,5],"bandPosition":0.5,"tickSize":2.5,"labelPadding":1,"labelFontSize":5,"domain":true,"labelAngle":0,"labelExpr":"datum.value==0?'10⁰':datum.value==2?'10¹':'10²'","zindex":1}},
"y":{"field":"i","type":"ordinal","axis":{"orient":"left","offset":0,"title":null,"values":[0,2,5],"bandPosition":0.5,"tickSize":2.5,"labelPadding":1,"labelFontSize":5,"domain":false,"labelAngle":0,"labelExpr":"datum.value==0?'10⁰':datum.value==2?'10¹':'10²'"}}}},
{"mark":{"type":"rect","opacity":0},
"encoding":{
"x":{"field":"j","type":"ordinal","axis":null},
"y":{"field":"i","type":"ordinal","axis":{"orient":"right","offset":0,"title":null,"labels":false,"ticks":false,"domain":true,"zindex":1}}}}
],
"resolve":{"axis":{"x":"independent","y":"independent"}}},
{"width":252,"height":249,"data":{"name":"B"},
"title":{"text":"B","anchor":"start","frame":"bounds","fontSize":12,"fontWeight":"bold","color":"#000","offset":0,"dy":14,"dx":0},
"layer":[
{"mark":{"type":"rect"},
"encoding":{
"x":{"field":"j","type":"ordinal","scale":{"domain":[0,1,2,3,4,5,6,7,8,9,10,11,12,13,14,15,16,17,18,19,20,21,22,23],"paddingInner":0,"paddingOuter":0},"axis":{"orient":"bottom","offset":0,"title":null,"values":[2,8,14,20],"bandPosition":1,"ticks":false,"domain":true,"labelExpr":"datum.value==2?'early':datum.value==8?'ventral':datum.value==14?'lateral':'parietal-cingulate'","labelAngle":-45,"labelAlign":"right","labelBaseline":"top","labelPadding":5,"labelOffset":5,"labelFontSize":6.4,"labelOverlap":false}},
"y":{"field":"i","type":"ordinal","scale":{"domain":[0,1,2,3,4,5,6,7,8,9,10,11,12,13,14,15,16,17,18,19,20,21,22,23],"paddingInner":0,"paddingOuter":0},"axis":{"orient":"left","offset":0,"title":null,"values":[2,8,14,20],"bandPosition":1,"ticks":false,"domain":true,"labelExpr":"datum.value==2?'early':datum.value==8?'ventral':datum.value==14?'lateral':'parietal-cingulate'","labelAngle":0,"labelAlign":"right","labelBaseline":"middle","labelPadding":16,"labelFontSize":6.4,"labelOverlap":false,"labelOffset":10}},
"color":{"field":"v","type":"quantitative","scale":{"scheme":"redblue","reverse":true,"domain":[-1,1]}}}},
{"mark":{"type":"rect","opacity":0},
"encoding":{
"x":{"field":"j","type":"ordinal","axis":{"orient":"bottom","offset":0,"title":null,"values":[5,11,17],"bandPosition":1,"ticks":true,"tickSize":7,"labels":false,"domain":false,"grid":true,"gridColor":"#555","gridWidth":0.9,"gridOpacity":0.8,"zindex":1}},
"y":{"field":"i","type":"ordinal","axis":{"orient":"left","offset":0,"title":null,"values":[5,11,17],"bandPosition":1,"ticks":true,"tickSize":8,"labels":false,"domain":false,"grid":true,"gridColor":"#555","gridWidth":0.9,"gridOpacity":0.8,"zindex":1}}}},
{"mark":{"type":"rect","opacity":0},
"encoding":{
"x":{"field":"j","type":"ordinal","axis":{"orient":"top","offset":0,"title":null,"values":[0,2,5],"bandPosition":0.5,"tickSize":2.5,"labelPadding":1,"labelFontSize":5,"domain":true,"labelAngle":0,"labelExpr":"datum.value==0?'10⁰':datum.value==2?'10¹':'10²'","zindex":1}},
"y":{"field":"i","type":"ordinal","axis":{"orient":"left","offset":0,"title":null,"values":[0,2,5],"bandPosition":0.5,"tickSize":2.5,"labelPadding":1,"labelFontSize":5,"domain":false,"labelAngle":0,"labelExpr":"datum.value==0?'10⁰':datum.value==2?'10¹':'10²'"}}}},
{"mark":{"type":"rect","opacity":0},
"encoding":{
"x":{"field":"j","type":"ordinal","axis":null},
"y":{"field":"i","type":"ordinal","axis":{"orient":"right","offset":0,"title":null,"labels":false,"ticks":false,"domain":true,"zindex":1}}}}
],
"resolve":{"axis":{"x":"independent","y":"independent"}}}
]
}
